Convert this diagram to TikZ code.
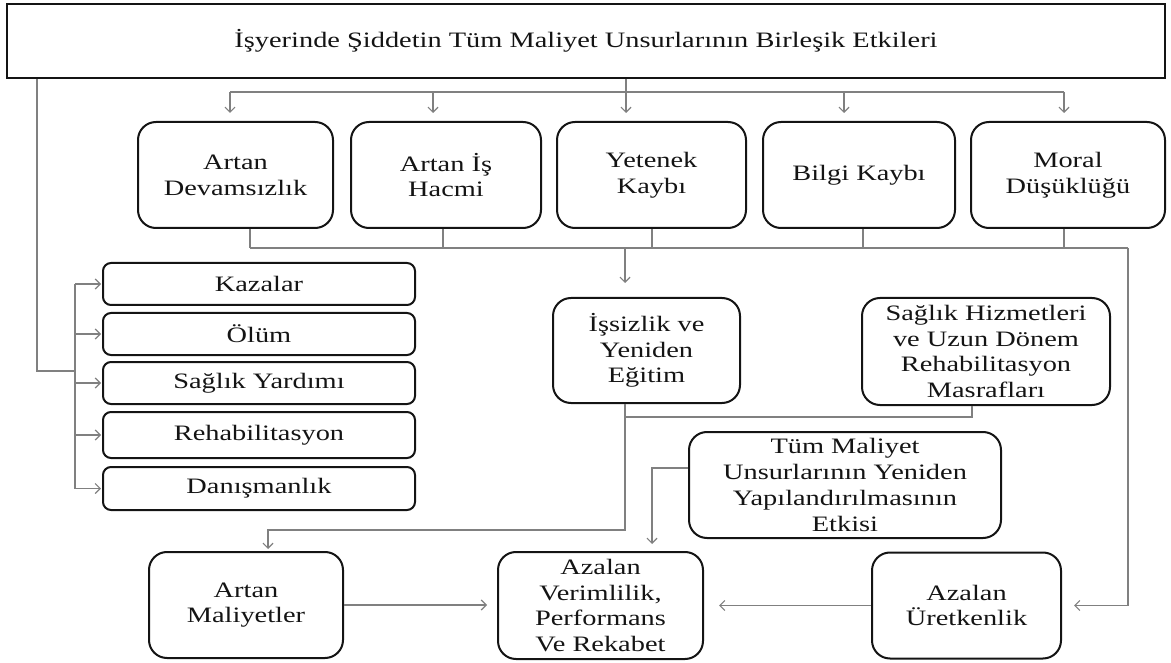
\documentclass[tikz,border=0pt]{standalone}
\usepackage{fontspec}
\setmainfont{Liberation Serif}[FakeStretch=1.29]
\usetikzlibrary{arrows.meta,calc}
\definecolor{wire}{HTML}{808080}
\definecolor{ink}{HTML}{141414}
\tikzset{
  txt/.style={text=ink, font=\fontsize{22}{25.7}\selectfont, align=center, inner sep=0pt},
  box/.style={txt, draw=ink, line width=2pt, rounded corners=18pt},
  tallbox/.style={box, minimum height=106pt},
  listbox/.style={box, rounded corners=8pt, minimum width=312pt},
  wire/.style={draw=wire, line width=1.2pt},
  flow/.style={wire, -{Straight Barb[length=5pt,width=10pt]}},
}
\begin{document}
\begin{tikzpicture}[x=1pt,y=-1pt]
\useasboundingbox (0,0) rectangle (1171,663);

% title
\node[txt, draw=ink, line width=2.8pt, minimum width=1158pt, minimum height=74pt] (top) at (586,41)
  {İşyerinde Şiddetin Tüm Maliyet Unsurlarının Birleşik Etkileri};

% first row
\node[tallbox, minimum width=195pt] (dev) at (235.5,175) {Artan\\Devamsızlık};
\node[tallbox, minimum width=190pt] (hacim) at (446,175) {Artan İş\\Hacmi};
\node[tallbox, minimum width=189pt] (yet) at (651.5,175) {Yetenek\\Kaybı};
\node[tallbox, minimum width=192pt] (bilgi) at (859,175) {Bilgi Kaybı};
\node[tallbox, minimum width=194pt] (moral) at (1068,175) {Moral\\Düşüklüğü};

% list on the left
\node[listbox, minimum height=42pt] (kaz) at (259,284) {Kazalar};
\node[listbox, minimum height=42pt] (olum) at (259,334) {Ölüm};
\node[listbox, minimum height=42pt] (saglik) at (259,383) {Sağlık Yardımı};
\node[listbox, minimum height=46pt] (rehab) at (259,435) {Rehabilitasyon};
\node[listbox, minimum height=43pt] (danis) at (259,488.5) {Danışmanlık};

% middle
\node[box, minimum width=187pt, minimum height=105pt] (issiz) at (646.5,350.5) {İşsizlik ve\\Yeniden\\Eğitim};
\node[box, minimum width=248pt, minimum height=107pt] (shiz) at (986,351.5) {Sağlık Hizmetleri\\ve Uzun Dönem\\Rehabilitasyon\\Masrafları};
\node[box, minimum width=312pt, minimum height=106pt] (tum) at (845,485) {Tüm Maliyet\\Unsurlarının Yeniden\\Yapılandırılmasının\\Etkisi};

% bottom row
\node[tallbox, minimum width=194pt] (artmal) at (246,605) {Artan\\Maliyetler};
\node[box, minimum width=205pt, minimum height=107pt] (azver) at (600.5,605.5) {Azalan\\Verimlilik,\\Performans\\Ve Rekabet};
\node[tallbox, minimum width=189pt] (azur) at (966.5,605.5) {Azalan\\Üretkenlik};

% distribution from the title
\coordinate (d1) at (230,92);
\coordinate (d2) at (433,92);
\coordinate (d3) at (626,92);
\coordinate (d4) at (844,92);
\coordinate (d5) at (1064,92);
\draw[wire] (d1) -- (d5);
\draw[flow, shorten >=8pt] (top.south -| d3) -- (d3 |- yet.north);
\draw[flow, shorten >=8pt] (d1) -- (d1 |- dev.north);
\draw[flow, shorten >=8pt] (d2) -- (d2 |- hacim.north);
\draw[flow, shorten >=8pt] (d4) -- (d4 |- bilgi.north);
\draw[flow, shorten >=8pt] (d5) -- (d5 |- moral.north);

% collector under the first row
\coordinate (c1) at (250,248);
\coordinate (c2) at (443,248);
\coordinate (c3) at (652,248);
\coordinate (c4) at (863,248);
\coordinate (c5) at (1064,248);
\coordinate (cm) at (625,248);
\coordinate (cr) at (1128,248);
\draw[wire] (dev.south -| c1) -- (c1);
\draw[wire] (hacim.south -| c2) -- (c2);
\draw[wire] (yet.south -| c3) -- (c3);
\draw[wire] (bilgi.south -| c4) -- (c4);
\draw[wire] (moral.south -| c5) -- (c5);
\draw[wire] (c1) -- (cr);
\draw[flow, shorten >=14pt] (cm) -- (cm |- issiz.north);
\draw[flow, shorten >=12pt] (cr) -- (cr |- azur.east) -- (azur.east);

% branch to the list
\coordinate (lv) at (37,371);
\coordinate (lb) at (75,371);
\draw[wire] (top.south -| lv) -- (lv) -- (lb);
\draw[wire] (kaz.west -| lb) -- (danis.west -| lb);
\foreach \n in {kaz,olum,saglik,rehab,danis}
  \draw[flow, shorten >=1pt] (\n.west -| lb) -- (\n.west);

% lower links
\coordinate (u1) at (625,530);
\coordinate (u2) at (268,530);
\coordinate (s1) at (972,417);
\coordinate (t1) at (652,468);
\draw[flow, shorten >=2pt] (issiz.south -| u1) -- (u1) -- (u2) -- (u2 |- artmal.north);
\draw[wire] (shiz.south -| s1) -- (s1) -- (s1 -| u1);
\draw[flow, shorten >=7pt] (t1 -| tum.west) -- (t1) -- (t1 |- azver.north);
\draw[flow, shorten >=10pt] (artmal.east) -- (artmal.east -| azver.west);
\draw[flow, shorten >=15pt] (azur.west) -- (azur.west -| azver.east);
\end{tikzpicture}
\end{document}
